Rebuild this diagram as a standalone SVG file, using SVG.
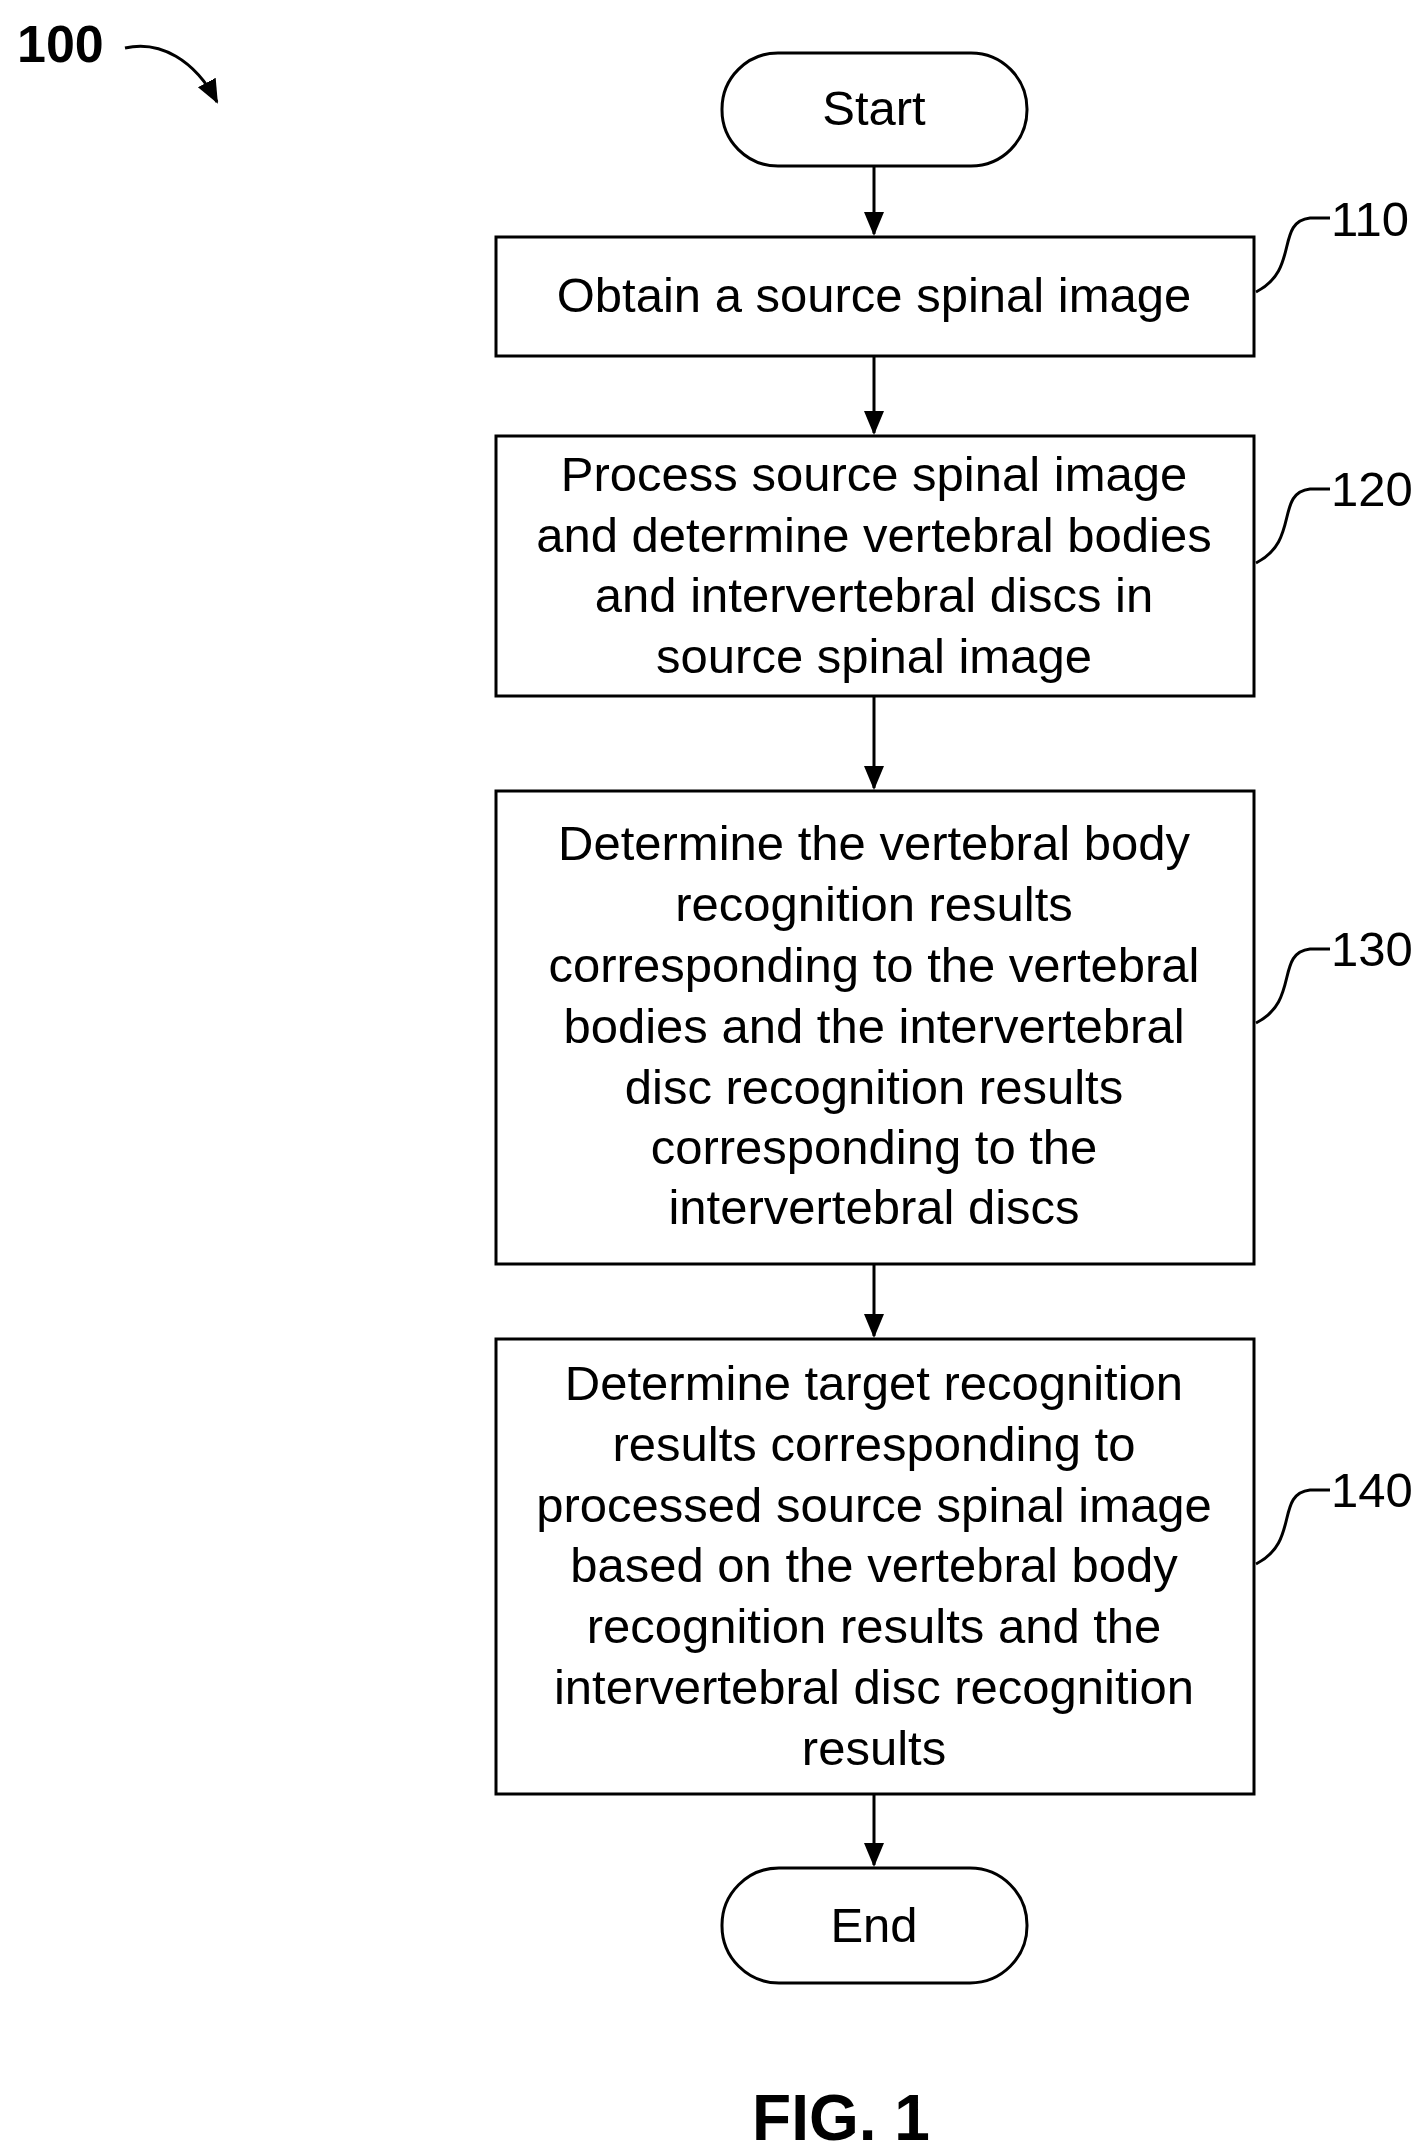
<svg xmlns="http://www.w3.org/2000/svg" width="1419" height="2153" viewBox="0 0 1419 2153">
<defs>
<marker id="ab" markerWidth="24" markerHeight="24" refX="22" refY="12" orient="auto" markerUnits="userSpaceOnUse" viewBox="0 0 24 24"><path d="M0,2 L24,12 L0,22 z" fill="#000"/></marker>
<style>
.n{fill:#fff;stroke:#000;stroke-width:3}
.t{font-family:"Liberation Sans",Arial,sans-serif;font-size:49px;text-anchor:middle;fill:#000}
.l{font-family:"Liberation Sans",Arial,sans-serif;font-size:49px;fill:#000}
.c{stroke:#000;stroke-width:3;fill:none}
</style>
</defs>
<rect width="1419" height="2153" fill="#fff"/>
<text x="17" y="62" font-family="Liberation Sans,Arial,sans-serif" font-size="52" font-weight="bold">100</text>
<path class="c" d="M125,48 C160,40 195,60 217,102" marker-end="url(#ab)"/>
<g id="connectors">
<line class="c" x1="874" y1="166" x2="874" y2="234" marker-end="url(#ab)"/>
<line class="c" x1="874" y1="356" x2="874" y2="433" marker-end="url(#ab)"/>
<line class="c" x1="874" y1="696" x2="874" y2="788" marker-end="url(#ab)"/>
<line class="c" x1="874" y1="1264" x2="874" y2="1336" marker-end="url(#ab)"/>
<line class="c" x1="874" y1="1794" x2="874" y2="1865" marker-end="url(#ab)"/>
<path class="c" d="M1256,292 C1300,270 1275,222 1310,218 L1330,218"/>
<path class="c" d="M1256,563 C1300,541 1275,493 1310,489 L1330,489"/>
<path class="c" d="M1256,1023 C1300,1001 1275,953 1310,949 L1330,949"/>
<path class="c" d="M1256,1564 C1300,1542 1275,1494 1310,1490 L1330,1490"/>
</g>
<g id="start"><rect class="n" x="722" y="53" width="305" height="113" rx="56"/><text class="t" x="874" y="125">Start</text></g>
<g id="n110"><rect class="n" x="496" y="237" width="758" height="119"/><text class="t" x="874" y="312">Obtain a source spinal image</text><text class="l" x="1331" y="236">110</text></g>
<g id="n120"><rect class="n" x="496" y="436" width="758" height="260"/>
<text class="t" x="874" y="491">Process source spinal image</text>
<text class="t" x="874" y="552">and determine vertebral bodies</text>
<text class="t" x="874" y="612">and intervertebral discs in</text>
<text class="t" x="874" y="673">source spinal image</text><text class="l" x="1331" y="506">120</text></g>
<g id="n130"><rect class="n" x="496" y="791" width="758" height="473"/>
<text class="t" x="874" y="860">Determine the vertebral body</text>
<text class="t" x="874" y="921">recognition results</text>
<text class="t" x="874" y="982">corresponding to the vertebral</text>
<text class="t" x="874" y="1043">bodies and the intervertebral</text>
<text class="t" x="874" y="1104">disc recognition results</text>
<text class="t" x="874" y="1164">corresponding to the</text>
<text class="t" x="874" y="1224">intervertebral discs</text><text class="l" x="1331" y="966">130</text></g>
<g id="n140"><rect class="n" x="496" y="1339" width="758" height="455"/>
<text class="t" x="874" y="1400">Determine target recognition</text>
<text class="t" x="874" y="1461">results corresponding to</text>
<text class="t" x="874" y="1522">processed source spinal image</text>
<text class="t" x="874" y="1582">based on the vertebral body</text>
<text class="t" x="874" y="1643">recognition results and the</text>
<text class="t" x="874" y="1704">intervertebral disc recognition</text>
<text class="t" x="874" y="1765">results</text><text class="l" x="1331" y="1507">140</text></g>
<g id="end"><rect class="n" x="722" y="1868" width="305" height="115" rx="57"/><text class="t" x="874" y="1942">End</text></g>
<text x="841" y="2140" text-anchor="middle" font-family="Liberation Sans,Arial,sans-serif" font-size="64" font-weight="bold">FIG. 1</text>
</svg>
